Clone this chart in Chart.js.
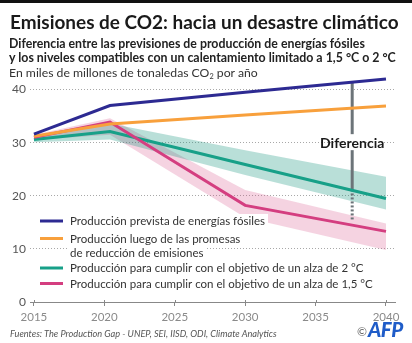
<!DOCTYPE html>
<html><head><meta charset="utf-8">
<script src="https://cdn.jsdelivr.net/npm/chart.js@4"></script>
<style>
html,body{margin:0;padding:0;background:#fff;}
#wrap{position:relative;width:412px;height:343px;overflow:hidden;background:#fff;}
#bar{position:absolute;left:0;top:0;width:412px;height:3px;background:#111;}
#c{position:absolute;left:0;top:0;}
.t{position:absolute;white-space:nowrap;font-family:Lato,"Open Sans",sans-serif;line-height:1;margin:0;}
sub{font-size:60%;vertical-align:-0.25em;line-height:0;}
</style></head>
<body><div id="wrap">
<canvas id="c" width="412" height="343"></canvas>
<div id="bar"></div>
<div class="t" id="title" style="font-weight:700;font-size:22px;color:#1a1a1a">Emisiones de CO2: hacia un desastre climático</div>
<div class="t" id="sub1" style="font-weight:700;font-size:14px;color:#222">Diferencia entre las previsiones de producción de energías fósiles</div>
<div class="t" id="sub2" style="font-weight:700;font-size:14px;color:#222">y los niveles compatibles con un calentamiento limitado a 1,5 °C o 2 °C</div>
<div class="t" id="unit" style="font-size:13px;color:#333">En miles de millones de tonaledas CO<sub>2</sub> por año</div>
<div class="t" id="src" style="font-style:italic;font-size:11px;color:#555">Fuentes: The Production Gap - UNEP, SEI, IISD, ODI, Climate Analytics</div>
<div class="t" id="copy" style="font-size:12px;color:#666">©</div>
<div class="t" id="afp" style="font-weight:900;font-style:italic;font-size:14px;color:#1f5cc8;letter-spacing:-0.5px">AFP</div>
</div>
<script>
// ---- data ----
const years = [2015, 2020.4, 2030, 2040];
const fossilProduction = [31.6, 37.0, 39.5, 42.0];
const pledgesProduction = [31.2, 33.5, 35.2, 36.9];
const twoDegrees = [30.6, 32.1, 25.9, 19.5];
const twoDegreesHigh = [31.2, 33.6, 28.6, 23.6];
const twoDegreesLow = [30.1, 30.6, 23.9, 17.4];
const onePointFive = [31.0, 33.9, 18.2, 13.3];
const onePointFiveHigh = [31.5, 34.6, 21.1, 14.8];
const onePointFiveLow = [30.5, 31.5, 15.9, 9.8];
const gapYear = 2037.6;
const gapValues = [41.4, 21.2, 15.2];
const gapLabel = "Diferencia";
const xTicks = [2015, 2020, 2025, 2030, 2035, 2040];
const yTicks = [0, 10, 20, 30, 40];
const seriesNames = [
  ["Producción prevista de energías fósiles"],
  ["Producción luego de las promesas", "de reducción de emisiones"],
  ["Producción para cumplir con el objetivo de un alza de 2 °C"],
  ["Producción para cumplir con el objetivo de un alza de 1,5 °C"]
];

const BLUE = '#2d2a92', ORANGE = '#f8a03c', GREEN = '#17a088', PINK = '#d43e80', GRAY = '#6c7479';
const pts = arr => years.map((yr, i) => ({x: yr, y: arr[i]}));
const line = (data, color, extra) => Object.assign({data, borderColor: color, backgroundColor: color, borderWidth: 3, pointRadius: 0, fill: false, tension: 0}, extra || {});

const datasets = [
  line(pts(fossilProduction), BLUE),
  line(pts(pledgesProduction), ORANGE),
  line(pts(onePointFive), PINK),
  line(pts(twoDegrees), GREEN),
  line([{x: gapYear, y: gapValues[0]}, {x: gapYear, y: gapValues[1]}], GRAY, {borderCapStyle: 'butt'}),
  line([{x: gapYear, y: gapValues[1]}, {x: gapYear, y: gapValues[2]}], GRAY, {borderDash: [2, 2], borderCapStyle: 'butt'}),
  line(pts(twoDegreesHigh), 'rgba(0,0,0,0)', {borderWidth: 0, fill: '+1', backgroundColor: 'rgba(23,150,125,0.30)'}),
  line(pts(twoDegreesLow), 'rgba(0,0,0,0)', {borderWidth: 0}),
  line(pts(onePointFiveHigh), 'rgba(0,0,0,0)', {borderWidth: 0, fill: '+1', backgroundColor: 'rgba(215,70,130,0.24)'}),
  line(pts(onePointFiveLow), 'rgba(0,0,0,0)', {borderWidth: 0})
];

const legendColors = [BLUE, ORANGE, GREEN, PINK];
const legendRows = [[221], [238.5, 252.7], [268], [283.5]];

const overlay = {
  id: 'overlay',
  afterDatasetsDraw(chart) {
    const {ctx, scales: {x, y}} = chart;
    ctx.save();
    // small tick marks crossing the x axis line
    ctx.strokeStyle = '#888';
    ctx.lineWidth = 1;
    xTicks.forEach(v => {
      const px = Math.round(x.getPixelForValue(v)) + 0.5;
      ctx.beginPath();
      ctx.moveTo(px, y.bottom - 2);
      ctx.lineTo(px, y.bottom);
      ctx.stroke();
    });
    // gap label
    const lx = x.getPixelForValue(gapYear);
    const ly = y.getPixelForValue(30.1);
    ctx.font = '700 14px Lato, sans-serif';
    ctx.textBaseline = 'middle';
    ctx.textAlign = 'center';
    ctx.fillStyle = '#fff';
    ctx.fillRect(lx - 4, ly - 8, 8, 16);
    ctx.fillStyle = '#1a1a1a';
    ctx.fillText(gapLabel, lx, ly + 1);

    // legend
    let fs = 13;
    ctx.font = fs + 'px Lato, sans-serif';
    const longest = ctx.measureText(seriesNames[3][0]).width;
    fs = fs * 303 / longest;
    ctx.font = fs + 'px Lato, sans-serif';
    ctx.textAlign = 'left';
    seriesNames.forEach((lines, i) => {
      const rows = legendRows[i];
      lines.forEach((txt, j) => {
        const w = ctx.measureText(txt).width;
        ctx.fillStyle = '#fff';
        ctx.fillRect(j === 0 ? 36 : 68, rows[j] - 7, (j === 0 ? 34 : 2) + w + 3, 14);
        ctx.fillStyle = '#333';
        ctx.fillText(txt, 70, rows[j] + 0.5);
      });
      ctx.strokeStyle = legendColors[i];
      ctx.lineWidth = 3;
      ctx.beginPath();
      ctx.moveTo(40, rows[0]);
      ctx.lineTo(63, rows[0]);
      ctx.stroke();
    });
    ctx.restore();
  }
};

new Chart(document.getElementById('c'), {
  type: 'line',
  data: {datasets},
  options: {
    responsive: false,
    animation: false,
    devicePixelRatio: 1,
    layout: {padding: {left: 0, right: 17, top: 76, bottom: 0}},
    plugins: {legend: {display: false}, tooltip: {enabled: false}, title: {display: false}},
    scales: {
      x: {
        type: 'linear', min: 2014.72, max: 2040.64,
        afterBuildTicks: s => { s.ticks = xTicks.map(v => ({value: v})); },
        afterFit: s => { s.height = 41; },
        grid: {drawOnChartArea: false, drawTicks: true, tickLength: 4, color: '#888', lineWidth: 1},
        border: {display: true, color: '#888', width: 1},
        ticks: {color: '#8a8a8a', padding: 4, font: {size: 11.5, family: '"Liberation Sans Narrow", Lato, sans-serif'}, callback: v => String(v), autoSkip: false, maxRotation: 0}
      },
      y: {
        min: 0, max: 42.56,
        afterBuildTicks: s => { s.ticks = yTicks.map(v => ({value: v})); },
        afterFit: s => { s.width = 30; },
        grid: {drawTicks: false, color: '#a8a8a8', lineWidth: 1},
        border: {display: false, dash: [1, 2]},
        ticks: {color: '#555', padding: 4, font: {size: 12, family: 'Lato, sans-serif'}}
      }
    }
  },
  plugins: [overlay]
});

// place and fit HTML texts
function place(id, x, baseline, width) {
  const el = document.getElementById(id);
  let s = parseFloat(el.style.fontSize);
  if (width) {
    const w = el.getBoundingClientRect().width;
    s = s * width / w;
    el.style.fontSize = s + 'px';
  }
  el.style.left = x + 'px';
  el.style.top = (baseline - 0.887 * s) + 'px';
}
function layoutTexts() {
  place('title', 10, 30, 389);
  place('sub1', 9, 49, 356);
  place('sub2', 9, 63, 387);
  place('unit', 9, 77.5, 249);
  place('src', 10, 337, 267);
  place('copy', 357, 337, 0);
  place('afp', 368, 337.5, 34);
}
layoutTexts();
</script>
</body></html>
